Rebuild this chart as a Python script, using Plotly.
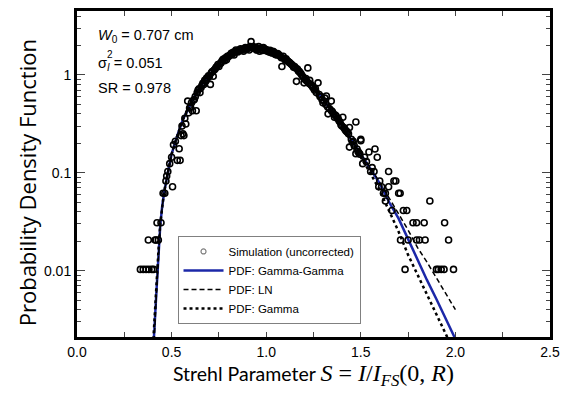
import plotly.graph_objects as go
import math

# ---------------- data ----------------
# Simulation histogram (uncorrected): Strehl parameter S and pdf value
sim_S = [0.335, 0.35, 0.365, 0.38, 0.395, 0.405,
         0.377, 0.413, 0.418, 0.43,
         0.423, 0.444,
         0.455, 0.464, 0.47, 0.474, 0.48, 0.49, 0.50, 0.505, 0.51,
         0.52, 0.53, 0.54, 0.545, 0.55, 0.56, 0.565, 0.575, 0.585, 0.59,
         0.60, 0.61, 0.62, 0.63, 0.64, 0.65, 0.66, 0.67, 0.68, 0.69,
         0.70, 0.705, 0.71, 0.72, 0.73, 0.74, 0.75, 0.76, 0.77, 0.78,
         0.79, 0.80, 0.81, 0.82, 0.83, 0.84, 0.85, 0.86, 0.87, 0.88,
         0.89, 0.90, 0.91, 0.915, 0.92, 0.925, 0.93, 0.94, 0.95, 0.96,
         0.965, 0.97, 0.98, 0.99, 1.00, 1.01, 1.02, 1.03, 1.04, 1.05,
         1.06, 1.07, 1.08, 1.083, 1.09, 1.10, 1.11, 1.12, 1.13, 1.14,
         1.15, 1.16, 1.165, 1.17, 1.18, 1.19, 1.20, 1.21, 1.22, 1.23,
         1.24, 1.248, 1.26, 1.274, 1.28, 1.29, 1.30, 1.31, 1.318, 1.327,
         1.335, 1.344, 1.35, 1.361, 1.37, 1.38, 1.39, 1.40, 1.405, 1.41,
         1.42, 1.43, 1.44, 1.44, 1.45, 1.46, 1.474, 1.474, 1.48, 1.49,
         1.50, 1.50, 1.51, 1.52, 1.543, 1.552, 1.56, 1.575, 1.587, 1.595,
         1.60, 1.61, 1.62, 1.63, 1.63, 1.647, 1.647, 1.665, 1.675, 1.685,
         1.70, 1.708, 1.71, 1.725, 1.734, 1.743, 1.75, 1.776, 1.795, 1.795,
         1.81, 1.835, 1.84, 1.865, 1.90, 1.91, 1.925, 1.94, 1.943, 1.964,
         1.99,
         0.555, 0.57, 0.595, 0.605, 0.615, 0.625, 0.635, 0.645, 0.655, 0.665,
         0.675, 0.685, 0.695, 0.715, 0.725, 0.735, 0.745, 0.755, 0.765, 0.775,
         0.785, 0.795, 0.805, 0.815, 0.825, 0.835, 0.845, 0.855, 0.865, 0.875,
         0.885, 0.895, 0.905, 0.935, 0.945, 0.955, 0.975, 0.985, 0.995, 1.005,
         1.015, 1.025, 1.035, 1.045, 1.055, 1.065, 1.075, 1.095, 1.105, 1.115,
         1.125, 1.135, 1.145, 1.155, 1.175, 1.185, 1.195, 1.205, 1.215, 1.225,
         1.235, 1.245, 1.255, 1.265, 1.285, 1.295, 1.305, 1.315, 1.325, 1.345,
         1.355, 1.365, 1.375, 1.385, 1.395, 1.415, 1.425, 1.435, 1.455, 1.465,
         1.485, 1.495, 1.53, 1.57]
sim_pdf = [0.0103, 0.0103, 0.0103, 0.0103, 0.0103, 0.0103,
           0.0206, 0.0206, 0.0206, 0.0206,
           0.0309, 0.0309,
           0.0618, 0.0618, 0.0824, 0.0927, 0.103, 0.124, 0.144, 0.072, 0.193,
           0.21, 0.134, 0.176, 0.134, 0.24, 0.25, 0.24, 0.315, 0.54, 0.41,
           0.47, 0.43, 0.56, 0.43, 0.70, 0.66, 0.78, 0.80, 0.86, 0.93,
           0.97, 0.80, 1.05, 0.97, 1.15, 1.22, 1.22, 1.32, 1.43, 1.40,
           1.43, 1.53, 1.60, 1.62, 1.60, 1.80, 1.72, 1.78, 1.80, 1.75,
           1.90, 1.85, 1.80, 1.95, 2.19, 1.88, 1.95, 1.85, 1.80, 1.95,
           1.75, 1.88, 1.78, 1.85, 1.82, 1.75, 1.78, 1.68, 1.72, 1.62,
           1.65, 1.58, 1.50, 1.22, 1.55, 1.42, 1.40, 1.35, 1.30, 1.25,
           1.22, 0.86, 1.15, 1.10, 1.05, 0.98, 0.83, 0.92, 1.18, 0.88,
           0.78, 0.74, 0.72, 0.83, 0.63, 0.60, 0.52, 0.58, 0.61, 0.40,
           0.45, 0.54, 0.42, 0.37, 0.38, 0.36, 0.33, 0.30, 0.37, 0.29,
           0.27, 0.26, 0.29, 0.183, 0.22, 0.21, 0.33, 0.157, 0.175, 0.16,
           0.22, 0.213, 0.124, 0.144, 0.163, 0.103, 0.113, 0.175, 0.144, 0.072,
           0.0824, 0.072, 0.0618, 0.0515, 0.0618, 0.103, 0.072, 0.0412, 0.0824, 0.0824,
           0.0618, 0.0618, 0.0206, 0.0412, 0.0103, 0.0412, 0.0206, 0.0309, 0.0309, 0.0206,
           0.0206, 0.0309, 0.0206, 0.0515, 0.0103, 0.0103, 0.0103, 0.0103, 0.0309, 0.0206,
           0.0103,
           0.30, 0.36, 0.46, 0.52, 0.55, 0.60, 0.66, 0.72, 0.74, 0.82,
           0.88, 0.93, 0.98, 1.08, 1.12, 1.20, 1.28, 1.30, 1.38, 1.45,
           1.50, 1.55, 1.58, 1.66, 1.70, 1.72, 1.75, 1.80, 1.85, 1.82,
           1.86, 1.83, 1.90, 1.90, 1.92, 1.86, 1.82, 1.90, 1.78, 1.76,
           1.72, 1.70, 1.74, 1.64, 1.60, 1.62, 1.55, 1.48, 1.46, 1.38,
           1.33, 1.28, 1.20, 1.18, 1.08, 1.02, 0.95, 0.90, 0.86, 0.82,
           0.80, 0.76, 0.70, 0.66, 0.60, 0.56, 0.54, 0.50, 0.47, 0.43,
           0.40, 0.39, 0.36, 0.34, 0.31, 0.28, 0.265, 0.25, 0.205, 0.19,
           0.165, 0.155, 0.13, 0.103]

# Model PDFs
curve_S = [0.40, 0.405, 0.41, 0.415, 0.42, 0.425, 0.43, 0.44, 0.45, 0.46,
           0.48, 0.50, 0.53, 0.56, 0.60, 0.65, 0.70, 0.75, 0.80, 0.85,
           0.90, 0.95, 1.00, 1.05, 1.10, 1.15, 1.20, 1.25, 1.30, 1.35,
           1.40, 1.45, 1.50, 1.55, 1.60, 1.65, 1.70, 1.75, 1.80, 1.85,
           1.90, 1.95, 2.00]
gg_pdf = [0.0012, 0.0020, 0.0030, 0.0045, 0.0062, 0.0090, 0.0150, 0.029, 0.045, 0.062,
          0.10, 0.155, 0.24, 0.35, 0.50, 0.76, 1.00, 1.30, 1.57, 1.77,
          1.86, 1.87, 1.80, 1.63, 1.45, 1.24, 0.98, 0.76, 0.56, 0.42,
          0.305, 0.215, 0.155, 0.110, 0.078, 0.050, 0.034, 0.021, 0.0125, 0.0080,
          0.0051, 0.0032, 0.0020]
ln_pdf = [0.0009, 0.0016, 0.0026, 0.0040, 0.0058, 0.0087, 0.0145, 0.028, 0.044, 0.061,
          0.10, 0.155, 0.24, 0.35, 0.50, 0.76, 1.00, 1.30, 1.57, 1.77,
          1.86, 1.87, 1.80, 1.63, 1.45, 1.24, 0.98, 0.76, 0.56, 0.42,
          0.307, 0.218, 0.158, 0.113, 0.080, 0.056, 0.038, 0.026, 0.0172, 0.0122,
          0.0084, 0.0057, 0.0040]
gamma_pdf = [0.0015, 0.0023, 0.0033, 0.0048, 0.0066, 0.0094, 0.0155, 0.030, 0.046, 0.063,
             0.10, 0.155, 0.24, 0.35, 0.50, 0.76, 1.00, 1.30, 1.57, 1.77,
             1.86, 1.87, 1.80, 1.63, 1.45, 1.24, 0.98, 0.76, 0.56, 0.42,
             0.300, 0.208, 0.147, 0.100, 0.066, 0.041, 0.025, 0.0145, 0.0090, 0.0056,
             0.0035, 0.0022, 0.0014]

x_ticks = [0.0, 0.5, 1.0, 1.5, 2.0, 2.5]
y_tickvals = [0.01, 0.1, 1]
y_ticktext = ["0.01", "0.1", "1"]
y_minor = [m * 10.0 ** e for e in (-3, -2, -1, 0) for m in range(2, 10)]

# ---------------- figure ----------------
BLUE = "#1c28a8"
fig = go.Figure()

# legend-only entry for simulation (small grey circle like reference legend)
fig.add_trace(go.Scatter(x=[None], y=[None], mode="markers", name="Simulation (uncorrected)",
                         marker=dict(symbol="circle-open", size=5, color="#808080",
                                     line=dict(width=1.2, color="#808080"))))
fig.add_trace(go.Scatter(x=curve_S, y=gg_pdf, mode="lines", name="PDF: Gamma-Gamma",
                         line=dict(color=BLUE, width=2.5)))
fig.add_trace(go.Scatter(x=curve_S, y=ln_pdf, mode="lines", name="PDF: LN",
                         line=dict(color="black", width=1.5, dash="5px,3px")))
fig.add_trace(go.Scatter(x=curve_S, y=gamma_pdf, mode="lines", name="PDF: Gamma",
                         line=dict(color="black", width=2.5, dash="dot")))
fig.add_trace(go.Scatter(x=sim_S, y=sim_pdf, mode="markers", showlegend=False,
                         marker=dict(symbol="circle-open", size=6, color="black",
                                     line=dict(width=1.6, color="black"))))

ann_font = dict(family="Liberation Sans, Arial", size=14.5, color="black")
fig.add_annotation(xref="paper", yref="paper", x=0.04, y=0.924, xanchor="left", yanchor="middle",
                   text="<i>W</i><sub>0</sub> = 0.707 cm", showarrow=False, font=ann_font)
fig.add_annotation(xref="paper", yref="paper", x=0.04, y=0.836, xanchor="left", yanchor="middle",
                   text="σ<sub><i>I</i></sub> = 0.051", showarrow=False, font=ann_font)
fig.add_annotation(xref="paper", yref="paper", x=0.059, y=0.868, xanchor="left", yanchor="middle",
                   text="2", showarrow=False, font=dict(family="Liberation Sans, Arial", size=10, color="black"))
fig.add_annotation(xref="paper", yref="paper", x=0.04, y=0.763, xanchor="left", yanchor="middle",
                   text="SR = 0.978", showarrow=False, font=ann_font)
# y-axis title (placed like the reference, slightly below the axis centre)
fig.add_annotation(xref="paper", yref="paper", x=-0.104, y=0.474, xanchor="center", yanchor="middle",
                   text="Probability Density Function", textangle=-90, showarrow=False,
                   font=dict(family="Open Sans", size=22, color="black"))

tick_font = dict(family="Liberation Sans, Arial", size=14, color="black")
fig.update_layout(
    width=568, height=399,
    margin=dict(l=77, r=11, t=8, b=62),
    paper_bgcolor="white", plot_bgcolor="white",
    showlegend=True,
    legend=dict(x=0.2125, y=0.31, xanchor="left", yanchor="top",
                bordercolor="#808080", borderwidth=1, bgcolor="white",
                font=dict(family="Liberation Sans, Arial", size=11.5, color="black"),
                tracegroupgap=0, itemwidth=40),
    xaxis=dict(range=[0, 2.5], tickvals=x_ticks, tickformat=".1f",
               showline=True, linewidth=3, linecolor="black", mirror="allticks",
               ticks="inside", ticklen=5, tickwidth=1, tickcolor="#444",
               minor=dict(dtick=0.25, ticks="inside", ticklen=5, tickwidth=1, tickcolor="#444"),
               showgrid=False, zeroline=False, tickfont=tick_font,
               title=dict(text="Strehl Parameter <span style='font-family:Liberation Serif, DejaVu Serif;font-size:24px'><i>S</i> = <i>I</i>/<i>I</i><sub><i>FS</i></sub>(0, <i>R</i>)</span>",
                          font=dict(family="Lato, Open Sans", size=19.5, color="black"), standoff=6)),
    yaxis=dict(type="log", range=[math.log10(0.0021), math.log10(4.5)],
               tickvals=y_tickvals, ticktext=y_ticktext,
               showline=True, linewidth=3, linecolor="black", mirror="allticks",
               ticks="inside", ticklen=8, tickwidth=1, tickcolor="#444",
               minor=dict(tickvals=y_minor, ticks="inside", ticklen=4, tickwidth=1, tickcolor="#444"),
               showgrid=False, zeroline=False, tickfont=tick_font),
)

fig.write_html("out.html")
